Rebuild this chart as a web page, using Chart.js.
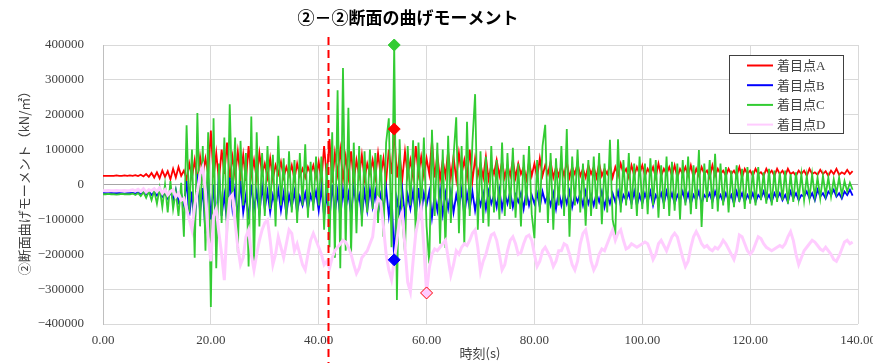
<!DOCTYPE html>
<html>
<head>
<meta charset="utf-8">
<script src="https://cdn.jsdelivr.net/npm/chart.js@4.4.1/dist/chart.umd.min.js"></script>
<style>
html,body{margin:0;padding:0;background:#fff;}
canvas{display:block;}
</style>
</head>
<body>
<canvas id="c" width="873" height="363"></canvas>
<script>
// Sampling interval of the recorded histories (s)
const STEP = 0.5;

// Bending moment histories at the four observation points (kN/m2)
const pointA = [
25e3,25e3,25e3,25e3,25e3,26e3,25e3,25e3,26e3,25e3,
26e3,25e3,27e3,24e3,28e3,23e3,30e3,22e3,33e3,20e3,
35e3,18e3,40e3,22e3,38e3,15e3,45e3,20e3,50e3,25e3,
40e3,15e3,60e3,20e3,70e3,10e3,80e3,25e3,75e3,30e3,
155e3,20e3,90e3,10e3,100e3,30e3,120e3,15e3,80e3,25e3,
95e3,20e3,85e3,10e3,110e3,25e3,70e3,15e3,90e3,30e3,
60e3,20e3,75e3,15e3,55e3,30e3,65e3,20e3,50e3,25e3,
55e3,15e3,60e3,25e3,45e3,20e3,50e3,30e3,55e3,20e3,
65e3,10e3,110e3,20e3,130e3,5e3,90e3,30e3,100e3,15e3,
80e3,20e3,95e3,10e3,70e3,25e3,85e3,15e3,60e3,30e3,
70e3,20e3,90e3,25e3,75e3,10e3,100e3,30e3,159e3,20e3,
85e3,15e3,95e3,25e3,70e3,20e3,110e3,30e3,80e3,25e3,
75e3,30e3,125e3,20e3,85e3,15e3,70e3,25e3,95e3,20e3,
80e3,15e3,90e3,30e3,70e3,20e3,100e3,10e3,75e3,25e3,
60e3,20e3,80e3,15e3,55e3,30e3,70e3,25e3,65e3,20e3,
55e3,25e3,70e3,20e3,60e3,30e3,50e3,15e3,65e3,25e3,
60e3,20e3,75e3,25e3,55e3,30e3,65e3,20e3,50e3,25e3,
55e3,25e3,65e3,20e3,50e3,30e3,60e3,25e3,45e3,20e3,
55e3,30e3,50e3,20e3,60e3,25e3,45e3,30e3,55e3,20e3,
50e3,25e3,60e3,30e3,45e3,20e3,55e3,25e3,50e3,30e3,
55e3,25e3,45e3,30e3,50e3,20e3,60e3,25e3,45e3,30e3,
50e3,25e3,55e3,20e3,45e3,30e3,50e3,25e3,55e3,20e3,
45e3,25e3,50e3,30e3,40e3,20e3,55e3,25e3,45e3,30e3,
40e3,25e3,45e3,30e3,40e3,25e3,50e3,20e3,45e3,30e3,
40e3,25e3,45e3,30e3,35e3,25e3,45e3,30e3,40e3,25e3,
45e3,30e3,40e3,25e3,45e3,30e3,35e3,25e3,40e3,30e3,
40e3,25e3,45e3,30e3,35e3,28e3,42e3,30e3,38e3,25e3,
40e3,30e3,45e3,28e3,35e3,30e3,42e3,30e3,38e3
];
const pointB = [
-24e3,-25e3,-25e3,-24e3,-25e3,-25e3,-24e3,-25e3,-26e3,-25e3,
-25e3,-24e3,-26e3,-23e3,-27e3,-22e3,-28e3,-20e3,-30e3,-22e3,
-32e3,-18e3,-35e3,-25e3,-40e3,-20e3,-45e3,-15e3,-50e3,-25e3,
-60e3,10e3,-90e3,-20e3,-120e3,30e3,-80e3,-10e3,-140e3,20e3,
-100e3,0,-130e3,40e3,-90e3,-30e3,-110e3,20e3,-70e3,-10e3,
-95e3,10e3,-80e3,-30e3,-100e3,0,-70e3,-20e3,-85e3,-5e3,
-70e3,-20e3,-80e3,-30e3,-60e3,-15e3,-75e3,-25e3,-85e3,-30e3,
-65e3,-20e3,-80e3,-35e3,-60e3,-25e3,-70e3,-30e3,-55e3,-20e3,
-75e3,-10e3,-90e3,-30e3,-100e3,0,-80e3,-20e3,-95e3,-15e3,
-70e3,-25e3,-85e3,-10e3,-60e3,-30e3,-90e3,-20e3,-75e3,-15e3,
-65e3,-20e3,-85e3,-30e3,-70e3,-10e3,-90e3,-25e3,-216e3,-40e3,
-80e3,-15e3,-95e3,-30e3,-70e3,-20e3,-90e3,-10e3,-85e3,-25e3,
-60e3,-20e3,-95e3,-30e3,-75e3,-15e3,-85e3,-25e3,-70e3,-20e3,
-80e3,-30e3,-65e3,-15e3,-90e3,-25e3,-70e3,-20e3,-75e3,-30e3,
-60e3,-25e3,-70e3,-20e3,-55e3,-30e3,-65e3,-15e3,-70e3,-25e3,
-55e3,-20e3,-65e3,-30e3,-50e3,-25e3,-70e3,-20e3,-60e3,-30e3,
-55e3,-25e3,-65e3,-20e3,-50e3,-30e3,-60e3,-25e3,-70e3,-20e3,
-60e3,-25e3,-55e3,-20e3,-65e3,-30e3,-50e3,-25e3,-60e3,-20e3,
-55e3,-30e3,-60e3,-25e3,-50e3,-20e3,-65e3,-30e3,-55e3,-25e3,
-50e3,-20e3,-60e3,-30e3,-45e3,-25e3,-55e3,-20e3,-60e3,-30e3,
-55e3,-25e3,-50e3,-20e3,-60e3,-30e3,-45e3,-25e3,-55e3,-20e3,
-50e3,-25e3,-55e3,-30e3,-45e3,-20e3,-50e3,-25e3,-55e3,-30e3,
-45e3,-20e3,-55e3,-30e3,-40e3,-25e3,-50e3,-20e3,-45e3,-30e3,
-50e3,-25e3,-45e3,-30e3,-55e3,-20e3,-45e3,-25e3,-50e3,-30e3,
-45e3,-25e3,-50e3,-30e3,-40e3,-20e3,-45e3,-30e3,-50e3,-25e3,
-40e3,-25e3,-45e3,-30e3,-50e3,-20e3,-40e3,-25e3,-45e3,-30e3,
-35e3,-20e3,-40e3,-25e3,-45e3,-15e3,-35e3,-25e3,-40e3,-20e3,
-30e3,-15e3,-35e3,-25e3,-40e3,-20e3,-30e3,-15e3,-32e3
];
const pointC = [
-28e3,-28e3,-27e3,-28e3,-28e3,-29e3,-28e3,-27e3,-28e3,-28e3,
-28e3,-26e3,-30e3,-25e3,-33e3,-22e3,-38e3,-20e3,-45e3,-18e3,
-55e3,-10e3,-65e3,0,-80e3,10e3,-70e3,-20e3,-90e3,5e3,
-150e3,170e3,-80e3,100e3,-210e3,205e3,-120e3,110e3,-190e3,150e3,
-351e3,190e3,-240e3,60e3,-110e3,135e3,-150e3,230e3,-60e3,135e3,
-195e3,125e3,-60e3,90e3,-235e3,195e3,-240e3,150e3,-120e3,90e3,
-90e3,110e3,-70e3,85e3,-120e3,140e3,-60e3,75e3,-100e3,95e3,
-80e3,70e3,-110e3,90e3,-60e3,115e3,-95e3,65e3,-75e3,80e3,
-60e3,80e3,-130e3,60e3,-180e3,150e3,-210e3,270e3,-240e3,334e3,
-190e3,220e3,-200e3,120e3,-140e3,110e3,-120e3,95e3,-80e3,100e3,
-70e3,90e3,-110e3,85e3,-150e3,120e3,190e3,-180e3,400e3,-331e3,
130e3,-100e3,-197e3,110e3,-60e3,127e3,-150e3,120e3,-80e3,135e3,
-120e3,-226e3,157e3,-90e3,120e3,-170e3,100e3,-182e3,140e3,-110e3,
80e3,193e3,-140e3,110e3,-170e3,180e3,-90e3,120e3,259e3,-130e3,
95e3,-110e3,80e3,-120e3,110e3,-80e3,70e3,-100e3,120e3,-90e3,
90e3,-70e3,105e3,-95e3,60e3,-120e3,85e3,-60e3,110e3,-85e3,
-154e3,70e3,-80e3,110e3,171e3,-110e3,90e3,-130e3,75e3,-60e3,
110e3,-90e3,159e3,-150e3,80e3,-60e3,100e3,-80e3,60e3,-118e3,
70e3,-90e3,80e3,-70e3,90e3,-114e3,60e3,-80e3,128e3,-100e3,
-143e3,130e3,-80e3,70e3,-60e3,90e3,-70e3,60e3,-90e3,80e3,
-70e3,60e3,-85e3,75e3,-60e3,70e3,-95e3,55e3,-70e3,80e3,
-90e3,65e3,-75e3,60e3,-100e3,70e3,-60e3,80e3,-85e3,55e3,
-70e3,99e3,-122e3,60e3,-50e3,70e3,-70e3,88e3,-77e3,60e3,
-60e3,50e3,-80e3,40e3,-65e3,55e3,-50e3,45e3,-70e3,50e3,
-55e3,40e3,-60e3,50e3,-45e3,35e3,-55e3,45e3,-60e3,40e3,
-50e3,35e3,-45e3,40e3,-55e3,30e3,-50e3,35e3,-40e3,30e3,
-45e3,25e3,-40e3,30e3,-35e3,20e3,-40e3,25e3,-30e3,20e3,
-35e3,15e3,-25e3,20e3,-30e3,10e3,-20e3,5e3,-15e3
];
const pointD = [
-18e3,-18e3,-17e3,-18e3,-18e3,-17e3,-18e3,-18e3,-17e3,-18e3,
-17e3,-15e3,-18e3,-14e3,-20e3,-12e3,-22e3,-15e3,-18e3,-12e3,
-20e3,-10e3,-25e3,-15e3,-30e3,-20e3,-15e3,-35e3,-25e3,-45e3,
-40e3,-70e3,-100e3,-130e3,-60e3,-20e3,30e3,50e3,-20e3,-150e3,
-220e3,-90e3,-70e3,-140e3,-200e3,-274e3,-120e3,-40e3,-30e3,-110e3,
-180e3,-230e3,-210e3,-150e3,-130e3,-200e3,-245e3,-200e3,-160e3,-130e3,
-110e3,-102e3,-160e3,-230e3,-200e3,-150e3,-180e3,-210e3,-170e3,-130e3,
-140e3,-190e3,-170e3,-200e3,-230e3,-245e3,-200e3,-160e3,-140e3,-160e3,
-180e3,-200e3,-230e3,-220e3,-240e3,-210e3,-190e3,-180e3,-170e3,-160e3,
-165e3,-180e3,-200e3,-230e3,-255e3,-240e3,-210e3,-200e3,-190e3,-170e3,
-150e3,-80e3,-40e3,-50e3,-120e3,-200e3,-245e3,-273e3,-220e3,-160e3,
-100e3,-80e3,-180e3,-280e3,-308e3,-220e3,-140e3,-100e3,-67e3,-180e3,
-311e3,-240e3,-200e3,-185e3,-190e3,-180e3,-170e3,-160e3,-210e3,-260e3,
-230e3,-190e3,-200e3,-180e3,-170e3,-175e3,-160e3,-140e3,-130e3,-180e3,
-250e3,-220e3,-200e3,-170e3,-145e3,-140e3,-160e3,-200e3,-245e3,-230e3,
-190e3,-160e3,-150e3,-170e3,-200e3,-195e3,-170e3,-150e3,-145e3,-160e3,
-200e3,-235e3,-220e3,-190e3,-180e3,-195e3,-210e3,-235e3,-220e3,-190e3,
-190e3,-170e3,-175e3,-200e3,-230e3,-245e3,-220e3,-170e3,-140e3,-130e3,
-170e3,-220e3,-245e3,-230e3,-200e3,-185e3,-190e3,-170e3,-150e3,-130e3,
-160e3,-140e3,-130e3,-160e3,-185e3,-180e3,-170e3,-175e3,-180e3,-175e3,
-170e3,-165e3,-170e3,-190e3,-215e3,-200e3,-170e3,-160e3,-175e3,-190e3,
-170e3,-150e3,-140e3,-150e3,-180e3,-210e3,-235e3,-220e3,-180e3,-150e3,
-135e3,-150e3,-170e3,-180e3,-175e3,-185e3,-190e3,-180e3,-185e3,-175e3,
-160e3,-170e3,-185e3,-200e3,-215e3,-190e3,-145e3,-150e3,-170e3,-190e3,
-200e3,-190e3,-170e3,-150e3,-155e3,-170e3,-180e3,-185e3,-190e3,-185e3,
-180e3,-175e3,-180e3,-170e3,-150e3,-135e3,-160e3,-200e3,-230e3,-210e3,
-190e3,-180e3,-170e3,-160e3,-165e3,-175e3,-185e3,-190e3,-180e3,-190e3,
-200e3,-215e3,-220e3,-205e3,-185e3,-165e3,-160e3,-170e3,-165e3
];

const seriesLabels = ['着目点A', '着目点B', '着目点C', '着目点D'];
const seriesColors = ['#ff0000', '#0000ff', '#33cc33', '#ffccff'];
const xTicks = [0, 20, 40, 60, 80, 100, 120, 140];
const yTicks = [-400000, -300000, -200000, -100000, 0, 100000, 200000, 300000, 400000];
const eventTime = 41.7;   // time marked by the dashed line (s)

const chartTitle = '②－②断面の曲げモーメント';
const yTitle = '②断面曲げモーメント（kN/㎡）';
const xTitle = '時刻(s)';

// time stamps of the samples
const times = pointA.map((_, i) => i * STEP);
const series = [pointA, pointB, pointC, pointD];

// peak of C (and A, B at the same instant) and minimum of D
const idxPeak = pointC.indexOf(Math.max(...pointC));
const idxMinD = pointD.indexOf(Math.min(...pointD));

const SERIF = '"Liberation Serif", "Noto Sans CJK JP", serif';
const GOTHIC = '"Noto Sans CJK JP", sans-serif';

const lineSets = series.map((vals, k) => ({
  label: seriesLabels[k],
  data: vals.map((v, i) => ({ x: times[i], y: v })),
  borderColor: seriesColors[k],
  backgroundColor: seriesColors[k],
  borderWidth: k === 3 ? 3 : 1.8,
  pointRadius: 0,
  tension: 0,
  order: 4 - k
}));

function marker(x, y, fill, stroke) {
  return {
    label: '',
    data: [{ x, y }],
    showLine: false,
    pointStyle: 'rectRot',
    pointRadius: 6,
    pointBackgroundColor: fill,
    pointBorderColor: stroke,
    pointBorderWidth: 1,
    clip: false,
    order: 0
  };
}
const markerSets = [
  marker(times[idxPeak], pointC[idxPeak], '#33cc33', '#33cc33'),
  marker(times[idxPeak], pointA[idxPeak], '#ff0000', '#ff0000'),
  marker(times[idxPeak], pointB[idxPeak], '#0000ff', '#0000ff'),
  marker(times[idxMinD], pointD[idxMinD], '#ffccff', '#ff0000')
];

const decorations = {
  id: 'decorations',
  afterDatasetsDraw(chart) {
    const { ctx, chartArea } = chart;
    const x = Math.round(chart.scales.x.getPixelForValue(eventTime)) + 0.5;
    ctx.save();
    ctx.strokeStyle = '#ff0000';
    ctx.lineWidth = 2;
    ctx.setLineDash([8, 5]);
    ctx.beginPath();
    ctx.moveTo(x, chartArea.top - 8);
    ctx.lineTo(x, chart.height);
    ctx.stroke();
    ctx.restore();
  },
  afterDraw(chart) {
    const { ctx } = chart;
    ctx.save();
    // title
    ctx.fillStyle = '#000';
    ctx.font = 'bold 17px ' + GOTHIC;
    ctx.textAlign = 'center';
    ctx.textBaseline = 'middle';
    ctx.fillText(chartTitle, 408, 18);
    // axis titles
    ctx.fillStyle = '#404040';
    ctx.font = '13px ' + GOTHIC;
    ctx.fillText(xTitle, 480, 353);
    ctx.save();
    ctx.translate(24, 180);
    ctx.rotate(-Math.PI / 2);
    ctx.fillText(yTitle, 0, 0);
    ctx.restore();
    // legend
    const bx = 729.5, by = 55.5, bw = 114, bh = 78;
    ctx.fillStyle = '#fff';
    ctx.fillRect(bx, by, bw, bh);
    ctx.strokeStyle = '#404040';
    ctx.lineWidth = 1;
    ctx.strokeRect(bx, by, bw, bh);
    ctx.font = '13px ' + SERIF;
    ctx.textAlign = 'left';
    seriesLabels.forEach((lab, k) => {
      const y = 65.5 + k * 19.7;
      ctx.strokeStyle = seriesColors[k];
      ctx.lineWidth = 2;
      ctx.beginPath();
      ctx.moveTo(747, y);
      ctx.lineTo(773, y);
      ctx.stroke();
      ctx.fillStyle = '#404040';
      ctx.fillText(lab, 777, y + 1);
    });
    ctx.restore();
  }
};

new Chart(document.getElementById('c'), {
  type: 'line',
  data: { datasets: [...lineSets, ...markerSets] },
  options: {
    responsive: false,
    animation: false,
    devicePixelRatio: 1,
    layout: { padding: { top: 45, right: 15, bottom: 0, left: 0 } },
    plugins: { legend: { display: false }, tooltip: { enabled: false }, title: { display: false } },
    scales: {
      x: {
        type: 'linear',
        min: 0, max: 140,
        afterFit(s) { s.height = 39; s.paddingLeft = 0; s.paddingRight = 0; },
        afterBuildTicks(s) { s.ticks = xTicks.map(v => ({ value: v })); },
        grid: { color: '#d9d9d9', lineWidth: 1, drawTicks: false },
        border: { display: false },
        ticks: {
          padding: 9,
          color: '#404040',
          font: { family: SERIF, size: 13 },
          maxRotation: 0,
          callback: v => Number(v).toFixed(2)
        }
      },
      y: {
        type: 'linear',
        min: -400000, max: 400000,
        afterFit(s) { s.width = 103; s.paddingTop = 0; s.paddingBottom = 0; },
        afterBuildTicks(s) { s.ticks = yTicks.map(v => ({ value: v })); },
        grid: {
          color: c => (c.tick && c.tick.value === 0 ? '#a6a6a6' : '#d9d9d9'),
          lineWidth: 1,
          drawTicks: false
        },
        border: { display: true, color: '#bfbfbf' },
        ticks: {
          padding: 19,
          color: '#404040',
          font: { family: SERIF, size: 13 },
          callback: v => (v < 0 ? '−' + Math.abs(v) : String(v))
        }
      }
    }
  },
  plugins: [decorations]
});
</script>
</body>
</html>
